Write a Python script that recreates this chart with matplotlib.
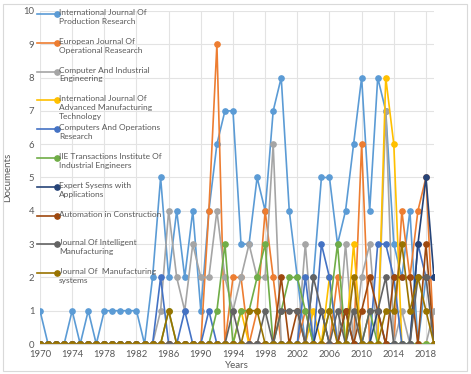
import matplotlib.pyplot as plt
from matplotlib.lines import Line2D

years = list(range(1970, 2020))

# documents per year, one list per journal (1970 .. 2019)
ijpr = [1, 0, 0, 0, 1, 0, 1, 0, 1, 1, 1, 1, 1, 0, 2, 5, 2, 4, 2, 4,
        1, 4, 6, 7, 7, 3, 3, 5, 4, 7, 8, 4, 2, 0, 2, 5, 5, 3, 4, 6,
        8, 4, 8, 7, 3, 2, 4, 0, 2, 2]
ejor = [0, 0, 0, 0, 0, 0, 0, 0, 0, 0, 0, 0, 0, 0, 0, 0, 0, 0, 0, 0,
        0, 4, 9, 0, 2, 2, 0, 1, 4, 2, 0, 0, 0, 1, 0, 0, 0, 2, 0, 0,
        6, 0, 0, 0, 0, 4, 2, 4, 5, 0]
cie = [0, 0, 0, 0, 0, 0, 0, 0, 0, 0, 0, 0, 0, 0, 0, 1, 4, 2, 1, 3,
       2, 2, 4, 2, 1, 2, 3, 2, 2, 6, 0, 0, 0, 3, 0, 0, 0, 0, 3, 0,
       2, 3, 0, 7, 0, 1, 0, 0, 0, 1]
ijamt = [0, 0, 0, 0, 0, 0, 0, 0, 0, 0, 0, 0, 0, 0, 0, 0, 0, 0, 0, 0,
         0, 0, 0, 0, 0, 1, 0, 0, 0, 0, 0, 0, 0, 0, 1, 0, 2, 0, 0, 3,
         0, 0, 0, 8, 6, 0, 0, 0, 0, 0]
cor = [0, 0, 0, 0, 0, 0, 0, 0, 0, 0, 0, 0, 0, 0, 0, 2, 0, 0, 1, 0,
       0, 1, 0, 0, 0, 0, 0, 0, 0, 0, 0, 0, 0, 2, 0, 3, 2, 0, 0, 0,
       0, 0, 3, 3, 2, 0, 0, 3, 2, 2]
iie = [0, 0, 0, 0, 0, 0, 0, 0, 0, 0, 0, 0, 0, 0, 0, 0, 1, 0, 0, 0,
       0, 0, 1, 3, 0, 1, 1, 2, 3, 0, 1, 2, 2, 1, 0, 0, 1, 3, 0, 0,
       0, 1, 0, 0, 0, 0, 0, 0, 0, 0]
eswa = [0, 0, 0, 0, 0, 0, 0, 0, 0, 0, 0, 0, 0, 0, 0, 0, 0, 0, 0, 0,
        0, 0, 0, 0, 0, 0, 0, 0, 0, 0, 0, 0, 0, 0, 0, 1, 0, 0, 1, 0,
        0, 0, 1, 0, 0, 0, 0, 3, 5, 2]
autcon = [0, 0, 0, 0, 0, 0, 0, 0, 0, 0, 0, 0, 0, 0, 0, 0, 0, 0, 0, 0,
          0, 0, 0, 0, 0, 0, 0, 0, 0, 0, 2, 0, 1, 0, 0, 0, 0, 0, 1, 0,
          1, 2, 1, 0, 2, 2, 2, 0, 3, 0]
jim = [0, 0, 0, 0, 0, 0, 0, 0, 0, 0, 0, 0, 0, 0, 0, 0, 0, 0, 0, 0,
       0, 0, 0, 0, 1, 0, 0, 0, 1, 0, 1, 1, 1, 0, 2, 1, 0, 1, 0, 1,
       0, 1, 1, 2, 0, 0, 0, 2, 2, 0]
jms = [0, 0, 0, 0, 0, 0, 0, 0, 0, 0, 0, 0, 0, 0, 0, 0, 1, 0, 0, 0,
       0, 0, 0, 0, 0, 0, 1, 1, 0, 0, 0, 0, 0, 0, 0, 0, 1, 0, 0, 2,
       0, 0, 0, 1, 1, 3, 1, 2, 1, 0]

names = ["International Journal Of\nProduction Research",
         "European Journal Of\nOperational Reasearch",
         "Computer And Industrial\nEngineering",
         "International Journal Of\nAdvanced Manufacturing\nTechnology",
         "Computers And Operations\nResearch",
         "IIE Transactions Institute Of\nIndustrial Engineers",
         "Expert Sysems with\nApplications",
         "Automation in Construction",
         "Journal Of Intelligent\nManufacturing",
         "Journal Of  Manufacturing\nsystems"]
series = [ijpr, ejor, cie, ijamt, cor, iie, eswa, autcon, jim, jms]
colors = ["#5B9BD5", "#ED7D31", "#A5A5A5", "#FFC000", "#4472C4",
          "#70AD47", "#264478", "#9E480E", "#636363", "#997300"]

plt.rcParams['font.family'] = ['Lato', 'DejaVu Sans']
W, H = 471, 374
fig = plt.figure(figsize=(W / 100, H / 100), dpi=100)
ax = fig.add_axes([40 / W, 1 - 344 / H, (434 - 40) / W, (344 - 11) / H])

for vals, c in zip(series, colors):
    ax.plot(years, vals, color=c, linewidth=1.2, marker='o', markersize=3.8)

ax.set_xlim(1970, 2019)
ax.set_ylim(0, 10)
ax.set_xticks(range(1970, 2019, 4))
ax.set_yticks(range(0, 11))
ax.grid(True, color='#e3e3e3', linewidth=0.8)
ax.set_axisbelow(True)
for s in ['top', 'right', 'left']:
    ax.spines[s].set_visible(False)
ax.spines['bottom'].set_color('#d9d9d9')
ax.tick_params(length=0, labelsize=6.8, colors='#595959', pad=4)
ax.set_xlabel('Years', fontsize=7, color='#595959', labelpad=2)
ax.set_ylabel('Documents', fontsize=7, color='#595959', labelpad=8)

# legend drawn inside the plot, one entry every ~29 px
for i, (name, c) in enumerate(zip(names, colors)):
    y = 1 - (14 + 28.8 * i) / H
    fig.add_artist(Line2D([37 / W, 57 / W], [y, y], color=c, linewidth=1.2,
                          marker='o', markersize=3.8, markevery=[1],
                          transform=fig.transFigure))
    fig.text(59 / W, y + 5 / H, name, fontsize=6.0, color='#595959',
             va='top', ha='left', linespacing=1.3)

# outer chart border
fig.add_artist(plt.Rectangle((3 / W, 3 / H), 464 / W, 367 / H, fill=False,
                             edgecolor='#d9d9d9', linewidth=0.8,
                             transform=fig.transFigure))

fig.savefig('out.png', dpi=100)
